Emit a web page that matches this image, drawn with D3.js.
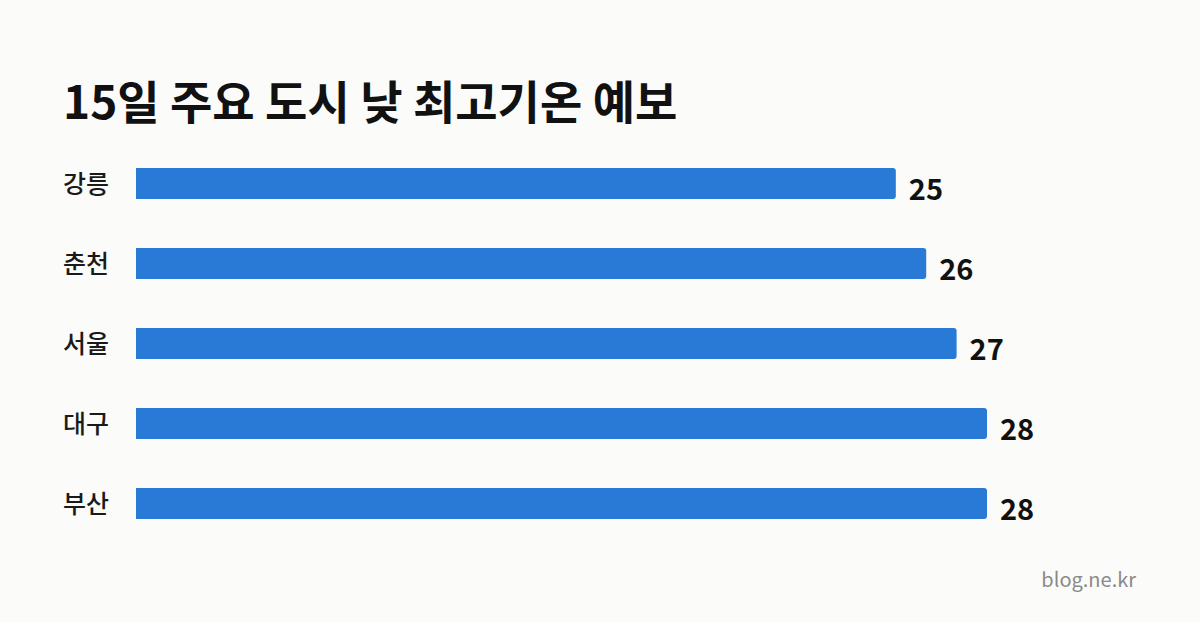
<!DOCTYPE html>
<html><head><meta charset="utf-8">
<script src="https://cdn.jsdelivr.net/npm/d3@7"></script>
<style>
html,body{margin:0;padding:0;background:#fbfbf9;}
svg{display:block;font-family:"Noto Sans CJK KR","Noto Sans",sans-serif;}
</style></head>
<body>
<svg id="c" width="1200" height="622"></svg>
<script>
const title = "15일 주요 도시 낮 최고기온 예보";
const cities = ["강릉","춘천","서울","대구","부산"];
const temps = [25,26,27,28,28];
const source = "blog.ne.kr";

const svg = d3.select("#c");
svg.append("rect").attr("width",1200).attr("height",622).attr("fill","#fbfbf9");

const x = d3.scaleLinear().domain([0, 28]).range([136, 987]);
const y = d3.scaleBand().domain(cities).range([143.5, 543.5]).paddingInner(0.6125).paddingOuter(0.30625);

svg.append("text").attr("x",63).attr("y",119).attr("font-size",46).attr("font-weight",700)
  .attr("fill","#111").text(title);

const r = 3;
const g = svg.append("g");
cities.forEach((c,i)=>{
  const x0 = x(0), x1 = x(temps[i]), y0 = y(c), h = y.bandwidth();
  g.append("path")
    .attr("d", `M${x0},${y0}H${x1-r}Q${x1},${y0} ${x1},${y0+r}V${y0+h-r}Q${x1},${y0+h} ${x1-r},${y0+h}H${x0}Z`)
    .attr("fill","#2979d6");
  g.append("text").attr("x",63).attr("y",y0+h/2+9.5).attr("font-size",25).attr("font-weight",500)
    .attr("fill","#1a1a1a").text(c);
  g.append("text").attr("x",x1+13).attr("y",y0+h/2+16).attr("font-size",29).attr("font-weight",700)
    .attr("fill","#111").text(temps[i]);
});

svg.append("text").attr("x",1136).attr("y",587).attr("text-anchor","end").attr("font-size",20)
  .attr("fill","#8a8a8a").text(source);
</script>
</body></html>
